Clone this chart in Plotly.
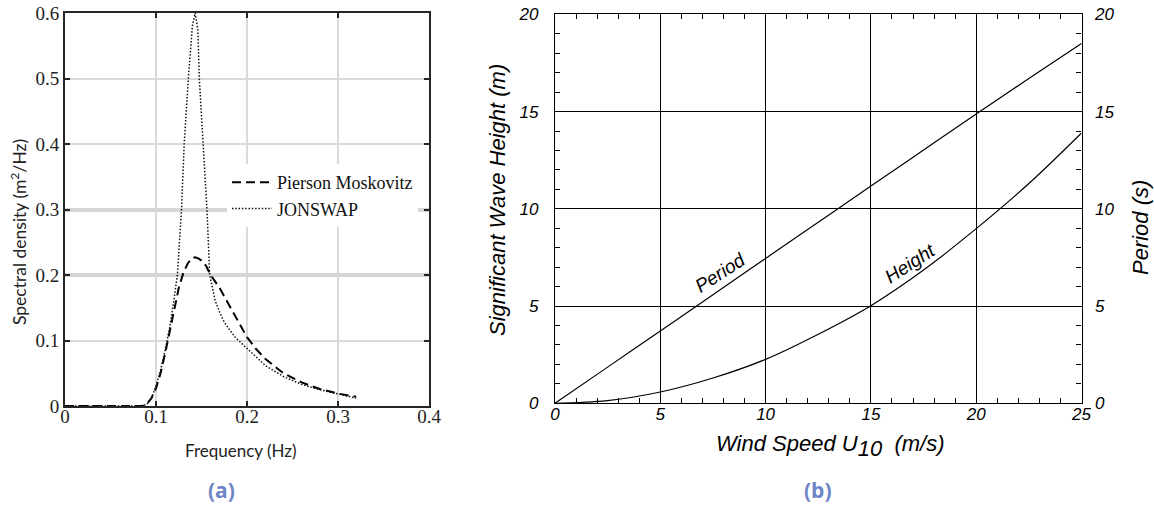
import plotly.graph_objects as go

# ---------------- data ----------------
freq_pm = [0.0, 0.085, 0.09, 0.095, 0.1, 0.105, 0.11, 0.115, 0.12, 0.125, 0.13, 0.135,
           0.14, 0.143, 0.147, 0.15, 0.155, 0.16, 0.17, 0.18, 0.19, 0.2, 0.21, 0.22,
           0.24, 0.26, 0.28, 0.3, 0.32]
s_pm = [0.0, 0.0, 0.003, 0.012, 0.027, 0.05, 0.08, 0.115, 0.15, 0.18, 0.203, 0.218,
        0.226, 0.227, 0.225, 0.222, 0.214, 0.2, 0.18, 0.155, 0.13, 0.105, 0.087, 0.072,
        0.05, 0.036, 0.026, 0.019, 0.014]

freq_js = [0.0, 0.085, 0.09, 0.095, 0.1, 0.105, 0.11, 0.115, 0.12, 0.1235, 0.128, 0.131,
           0.1355, 0.14, 0.143, 0.146, 0.1476, 0.1516, 0.156, 0.159, 0.162, 0.165, 0.17,
           0.175, 0.18, 0.187, 0.2, 0.21, 0.22, 0.24, 0.26, 0.28, 0.3, 0.32]
s_js = [0.0, 0.0, 0.003, 0.012, 0.03, 0.055, 0.085, 0.12, 0.165, 0.2, 0.3, 0.4,
        0.5, 0.58, 0.6, 0.575, 0.5, 0.4, 0.3, 0.2, 0.178, 0.161, 0.143,
        0.128, 0.118, 0.105, 0.088, 0.075, 0.062, 0.045, 0.033, 0.025, 0.018, 0.012]

wind_speed = [0, 2.5, 5, 7.5, 10, 12.5, 15, 17.5, 20, 22.5, 25]
period_s = [0, 1.86, 3.72, 5.58, 7.45, 9.31, 11.17, 13.02, 14.87, 16.7, 18.5]
height_m = [0, 0.14, 0.58, 1.3, 2.26, 3.55, 5.02, 6.85, 8.98, 11.3, 13.9]

freq_ticks = [0, 0.1, 0.2, 0.3, 0.4]
dens_ticks = [0, 0.1, 0.2, 0.3, 0.4, 0.5, 0.6]
wind_ticks = [0, 5, 10, 15, 20, 25]
wave_ticks = [0, 5, 10, 15, 20]

# ---------------- layout geometry ----------------
W, H = 1154, 508
def px(x):                    # window x -> paper fraction
    return x / W
def py(y):                    # window y -> paper fraction
    return 1 - y / H

SERIF = "Liberation Serif"
SANS = "Liberation Sans"
CAL = "Lato"
FRAME_A = "#262626"

fig = go.Figure()

# (a) spectra
fig.add_trace(go.Scatter(x=freq_pm, y=s_pm, mode="lines", name="Pierson Moskovitz",
                         line=dict(color="black", width=2, dash="9px,5px"),
                         xaxis="x", yaxis="y"))
fig.add_trace(go.Scatter(x=freq_js, y=s_js, mode="lines", name="JONSWAP",
                         line=dict(color="#111111", width=1.5, dash="1.5px,1.8px"),
                         xaxis="x", yaxis="y"))
# helper (empty) trace for the heavier grid lines
fig.add_trace(go.Scatter(x=[], y=[], xaxis="x", yaxis="y2", showlegend=False,
                         hoverinfo="skip"))

# (b) wind curves
fig.add_trace(go.Scatter(x=wind_speed, y=height_m, mode="lines", name="Height",
                         line=dict(color="black", width=1.2, shape="spline"),
                         xaxis="x3", yaxis="y3", showlegend=False))
fig.add_trace(go.Scatter(x=wind_speed, y=period_s, mode="lines", name="Period",
                         line=dict(color="black", width=1.2, shape="spline"),
                         xaxis="x3", yaxis="y4", showlegend=False))

dom_xa = [px(65), px(429)]
dom_ya = [py(406), py(13)]
dom_xb = [px(555), px(1081.5)]
dom_yb = [py(403.3), py(14.3)]

tick_a = dict(family=SERIF, size=19, color="#222222")
tick_b = dict(family=SANS, size=17, color="black", style="italic")

fig.update_layout(
    width=W, height=H,
    margin=dict(l=0, r=0, t=0, b=0, autoexpand=False),
    paper_bgcolor="white", plot_bgcolor="white",
    hovermode=False,
    xaxis=dict(domain=dom_xa, anchor="y", range=[0, 0.4], tickvals=freq_ticks,
               ticktext=["0", "0.1", "0.2", "0.3", "0.4"], automargin=False,
               showgrid=True, gridcolor="#dadada", gridwidth=1.5,
               zeroline=False, showline=True, linecolor=FRAME_A, linewidth=2,
               mirror="ticks", ticks="inside", ticklen=5, tickwidth=2,
               tickcolor=FRAME_A, tickfont=tick_a, ticklabelstandoff=-8,
               ticklabeloverflow="allow"),
    yaxis=dict(domain=dom_ya, anchor="x", range=[0, 0.6], tickvals=dens_ticks,
               ticktext=["0", "0.1", "0.2", "0.3", "0.4", "0.5", "0.6"], automargin=False,
               showgrid=True, gridcolor="#dadada", gridwidth=1.5,
               zeroline=False, showline=True, linecolor=FRAME_A, linewidth=2,
               mirror="ticks", ticks="inside", ticklen=5, tickwidth=2,
               tickcolor=FRAME_A, tickfont=tick_a, ticklabeloverflow="allow"),
    yaxis2=dict(domain=dom_ya, anchor="x", overlaying="y", range=[0, 0.6],
                tickvals=[0.2, 0.3], showticklabels=False, ticks="", automargin=False,
                showgrid=True, gridcolor="#d6d6d6", gridwidth=3.5,
                zeroline=False, showline=False),
    xaxis3=dict(domain=dom_xb, anchor="y3", range=[0, 25], tickvals=wind_ticks,
                automargin=False, ticklabeloverflow="allow",
                showgrid=True, gridcolor="black", gridwidth=1,
                zeroline=False, showline=True, linecolor="black", linewidth=1.2,
                mirror="ticks", ticks="inside", ticklen=6, tickwidth=1,
                tickcolor="black", tickfont=tick_b, ticklabelstandoff=-5,
                minor=dict(dtick=1, ticks="inside", ticklen=5, tickwidth=1,
                           tickcolor="black", showgrid=False)),
    yaxis3=dict(domain=dom_yb, anchor="x3", range=[0, 20], tickvals=wave_ticks,
                automargin=False, ticklabeloverflow="allow",
                showgrid=True, gridcolor="black", gridwidth=1,
                zeroline=False, showline=True, linecolor="black", linewidth=1.2,
                ticks="inside", ticklen=6, tickwidth=1, tickcolor="black",
                tickfont=tick_b, ticklabelstandoff=12,
                minor=dict(dtick=1, ticks="inside", ticklen=5, tickwidth=1,
                           tickcolor="black", showgrid=False)),
    yaxis4=dict(domain=dom_yb, anchor="x3", overlaying="y3", side="right",
                range=[0, 20], tickvals=wave_ticks, showgrid=False, automargin=False,
                ticklabeloverflow="allow",
                zeroline=False, showline=True, linecolor="black", linewidth=1.2,
                ticks="inside", ticklen=6, tickwidth=1, tickcolor="black",
                tickfont=tick_b, ticklabelstandoff=9,
                minor=dict(dtick=1, ticks="inside", ticklen=5, tickwidth=1,
                           tickcolor="black", showgrid=False)),
    legend=dict(x=px(227), y=py(164), xanchor="left", yanchor="top",
                bgcolor="white", borderwidth=0,
                font=dict(family=SERIF, size=18, color="#111111"),
                tracegroupgap=0, itemwidth=40),
    showlegend=True,
)

def note(text, x, y, size, family, angle=0, color="black", style="normal"):
    return dict(text=text, x=px(x), y=py(y), xref="paper", yref="paper",
                xanchor="center", yanchor="middle", textangle=angle, showarrow=False,
                font=dict(family=family, size=size, color=color, style=style))

ann = [
    note("Frequency (Hz)", 241, 450, 17, CAL, color="#222222"),
    note("Spectral density (m<sup>2</sup>/Hz)", 18, 232, 17.5, CAL, angle=-90, color="#222222"),
    note("Wind Speed U<sub><span style='font-size:22px'>10</span></sub>&nbsp;&nbsp;(m/s)",
         830, 446, 22, SANS, style="italic"),
    note("Significant Wave Height (m)", 498, 200, 22, SANS, angle=-90, style="italic"),
    note("Period (s)", 1140, 228, 22, SANS, angle=-90, style="italic"),
    note("<b>(a)</b>", 222, 490, 21, "Open Sans", color="#6e86c6"),
    note("<b>(b)</b>", 818, 490, 21, "Open Sans", color="#6e86c6"),
]
# curve labels placed in data units of panel (b)
ann.append(dict(text="Period", x=7.85, y=6.75, xref="x3", yref="y3", textangle=-33,
                xanchor="center", yanchor="middle", showarrow=False,
                font=dict(family=SANS, size=19, color="black", style="italic")))
ann.append(dict(text="Height", x=16.85, y=7.2, xref="x3", yref="y3", textangle=-33,
                xanchor="center", yanchor="middle", showarrow=False,
                font=dict(family=SANS, size=19, color="black", style="italic")))

fig.update_layout(annotations=ann)
fig.write_html("out.html", config={"displayModeBar": False},
               post_script="document.body.style.margin='0px';")
